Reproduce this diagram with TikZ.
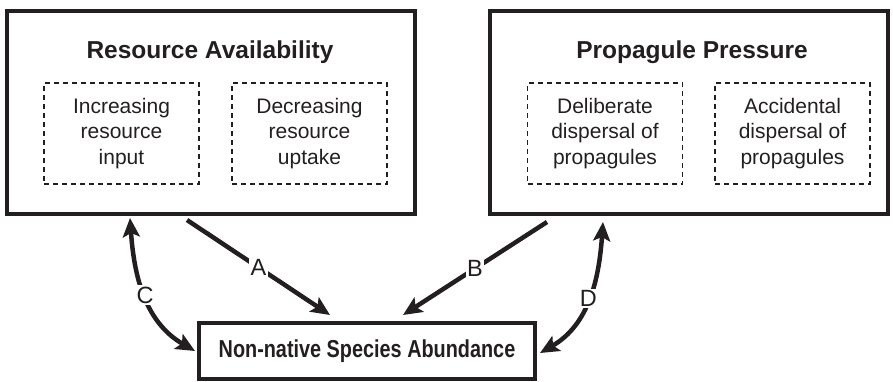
\documentclass[tikz,border=0pt]{standalone}
\usepackage{fontspec}
\setmainfont{Liberation Sans}
\usepackage{graphicx}
\usepackage{tikz}
\usetikzlibrary{arrows.meta, positioning, calc}
\definecolor{ink}{RGB}{35,31,32}

\begin{document}
\begin{tikzpicture}[
    x=1pt, y=1pt,
    font=\fontsize{21}{25.5}\selectfont, text=ink,
    outer/.style={draw=ink, line width=4pt, minimum height=202pt, inner sep=0pt, outer sep=0pt},
    inner/.style={draw=ink, line width=1.5pt, dash pattern=on 5pt off 4pt, align=center,
                  minimum width=155pt, minimum height=101pt, inner sep=0pt},
    ttl/.style={font=\fontsize{24.5}{29}\selectfont\bfseries},
    lbl/.style={font=\fontsize{23.5}{28}\selectfont, fill=white, inner sep=1.5pt, midway},
    flow/.style={-{Stealth[length=19pt, width=17pt, inset=4pt]}, line width=4.5pt, draw=ink},
    loopflow/.style={{Stealth[length=19pt, width=17pt, inset=4pt]}-{Stealth[length=19pt, width=17pt, inset=4pt]},
                     line width=4.5pt, draw=ink},
]
\useasboundingbox (0,0) rectangle (893,-382);
% Two driver boxes on top, response box centred below
\node[outer, minimum width=408pt] (res)  at (211,-112.5) {};
\node[outer, minimum width=398pt] (prop) at (689,-112.5) {};
\node[outer, minimum width=336pt, minimum height=56pt, ttl] (abund) at (367,-351)
     {\scalebox{0.81}[1]{Non-native Species Abundance}};
% Titles and dashed sub-boxes
\node[ttl] (restitle)  at (210,-52) {Resource Availability};
\node[ttl] (proptitle) at (692,-52) {Propagule Pressure};
\node[inner] (incr)  at (121.5,-133.5) {Increasing\\resource\\input};
\node[inner] (decr)  at (309.5,-133.5) {Decreasing\\resource\\uptake};
\node[inner] (delib) at (605,-133.5)   {Deliberate\\dispersal of\\propagules};
\node[inner] (accid) at (792.5,-133.5) {Accidental\\dispersal of\\propagules};

% Straight effects, label sits on the arrow
\draw[flow] ([xshift=-24pt,yshift=-6.5pt]res.south) -- node[lbl]{A} ([xshift=-37pt,yshift=8pt]abund.north);
\draw[flow] ([xshift=-142pt,yshift=-8.5pt]prop.south) -- node[lbl]{B} ([xshift=36pt,yshift=8pt]abund.north);
% Feedbacks (curved, both ends)
\draw[loopflow] ([xshift=-81pt,yshift=-4.5pt]res.south) to[out=-86, in=150]
     node[lbl]{C} ([xshift=-4pt]abund.west);
\draw[loopflow] ([xshift=-86pt,yshift=-8.5pt]prop.south) to[out=-94, in=30]
     node[lbl]{D} ([xshift=5pt,yshift=-2pt]abund.east);
\end{tikzpicture}
\end{document}
